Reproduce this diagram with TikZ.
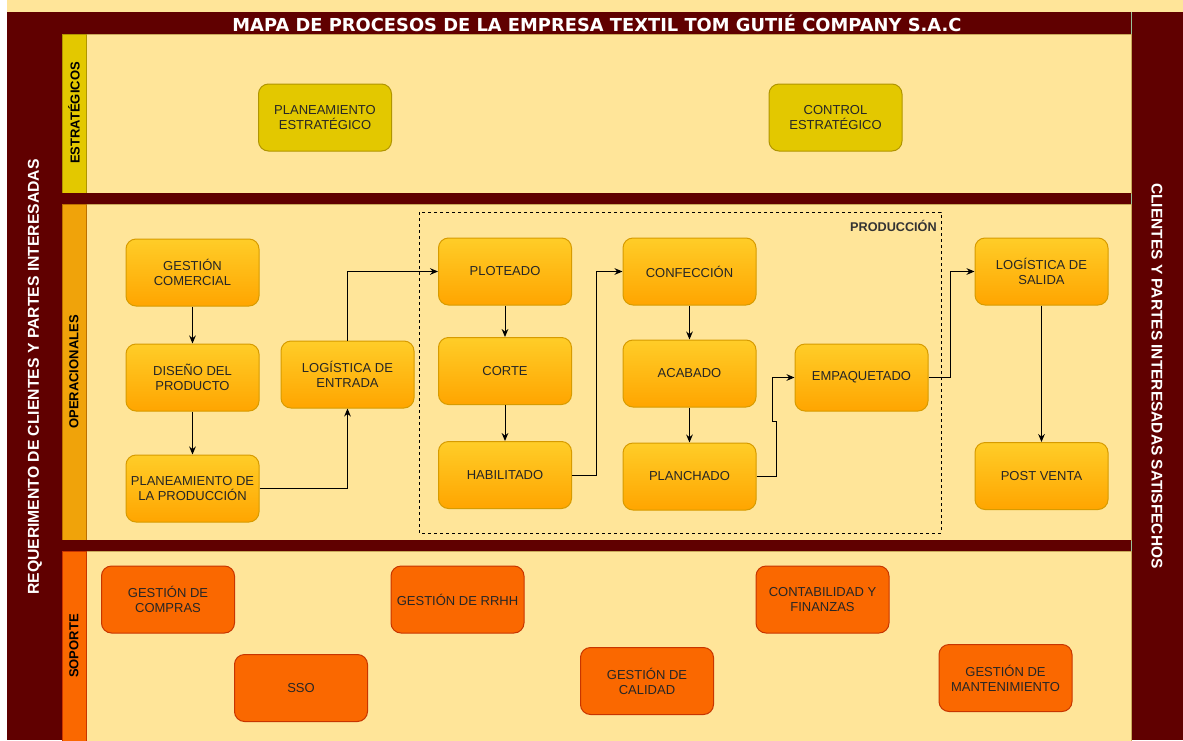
\documentclass[tikz,border=0pt]{standalone}
\usepackage{fontspec}
\setmainfont{Liberation Sans}
\newfontfamily\titlefont{DejaVu Sans}
\usetikzlibrary{arrows.meta}

\definecolor{vino}{HTML}{600000}
\definecolor{crema}{HTML}{FFE599}
\definecolor{cremaborde}{HTML}{C9A95A}
\definecolor{mostaza}{HTML}{E3C800}
\definecolor{mostazaborde}{HTML}{B09500}
\definecolor{ambar}{HTML}{F0A30A}
\definecolor{ambarborde}{HTML}{BD7000}
\definecolor{naranja}{HTML}{FA6800}
\definecolor{naranjaborde}{HTML}{C73500}
\definecolor{oroclaro}{HTML}{FFCD28}
\definecolor{oro}{HTML}{FFA500}
\definecolor{oroborde}{HTML}{D79B00}

\tikzset{
	proceso/.style={rounded corners=7.5pt, minimum width=99.75pt, minimum height=50.25pt, align=center, inner sep=1pt, text=black!85, font=\fontsize{9.75}{11.25}\selectfont},
	estrategico/.style={proceso, fill=mostaza, draw=mostazaborde, line width=0.75pt},
	operativo/.style={proceso, top color=oroclaro, bottom color=oro, draw=oroborde, line width=0.75pt},
	apoyo/.style={proceso, fill=naranja, draw=naranjaborde, line width=0.75pt},
	carril/.style={inner sep=0pt, font=\bfseries\fontsize{9.75}{11}\selectfont, rotate=90},
	flecha/.style={line width=0.75pt, -{Stealth[length=6pt,width=5pt]}}
}

\begin{document}
\begin{tikzpicture}[x=0.75pt,y=0.75pt,yscale=-1]
	\useasboundingbox (0,0) rectangle (1183,740);
	
	%Shape: Rectangle [fondo]
	\fill [white] (0,0) rectangle (1183,740);
	\fill [crema] (7,0) rectangle (1183,12);
	%Shape: Rectangle [columnas laterales]
	\fill [vino] (7,12) rectangle (62,740);
	\fill [vino] (1131,12) rectangle (1183,740);
	\draw [black!60!green!40, line width=0.5pt] (62,12) -- (62,740) (1131,12) -- (1131,740);
	%Shape: Rectangle [barra de titulo]
	\fill [vino] (62,12) rectangle (1131,34);
	
	%Shape: Rectangle [carril estrategico]
	\filldraw [fill=crema, draw=cremaborde, line width=0.5pt] (62,34) rectangle (1131,193);
	\filldraw [fill=mostaza, draw=mostazaborde, line width=0.5pt] (62,34) rectangle (86,193);
	\fill [vino] (62,193) rectangle (1131,204);
	%Shape: Rectangle [carril operativo]
	\filldraw [fill=crema, draw=cremaborde, line width=0.5pt] (62,204) rectangle (1131,540);
	\filldraw [fill=ambar, draw=ambarborde, line width=0.5pt] (62,204) rectangle (86,540);
	\fill [vino] (62,540) rectangle (1131,551);
	%Shape: Rectangle [carril soporte]
	\filldraw [fill=crema, draw=cremaborde, line width=0.5pt] (62,551) rectangle (1131,745);
	\filldraw [fill=naranja, draw=naranjaborde, line width=0.5pt] (62,551) rectangle (86,745);
	
	%Shape: Rectangle [produccion]
	\draw [line width=0.75pt, dash pattern={on 2.25pt off 2.25pt}] (419,212) rectangle (941,533);
	
	% Text Node
	\node (titulo) at (597,23) [text=white, inner sep=0pt, font=\titlefont\bfseries\fontsize{13.4}{15}\selectfont] {MAPA DE PROCESOS DE LA EMPRESA TEXTIL TOM GUTIÉ COMPANY S.A.C};
	% Text Node
	\node (entrada) at (35,377) [text=white, inner sep=0pt, rotate=90, font=\bfseries\fontsize{11.8}{13}\selectfont] {REQUERIMENTO DE CLIENTES Y PARTES INTERESADAS};
	% Text Node
	\node (salidas) at (1157,376) [text=white, inner sep=0pt, rotate=-90, font=\bfseries\fontsize{11.6}{13}\selectfont] {CLIENTES Y PARTES INTERESADAS SATISFECHOS};
	% Text Node
	\node (lblest) at (74,113) [carril] {ESTRATÉGICOS};
	\node (lblope) at (74,372) [carril] {OPERACIONALES};
	\node (lblsop) at (74,646) [carril] {SOPORTE};
	\node (lblprod) at (937,226) [anchor=east, inner sep=0pt, text=black!80, font=\bfseries\fontsize{9.5}{11}\selectfont] {PRODUCCIÓN};
	
	%Procesos estrategicos
	\node (plest) at (325,117.5) [estrategico] {PLANEAMIENTO\\ESTRATÉGICO};
	\node (ctrlest) at (835.5,117.5) [estrategico] {CONTROL\\ESTRATÉGICO};
	
	%Procesos operacionales
	\node (gcom) at (192.5,272.5) [operativo] {GESTIÓN\\COMERCIAL};
	\node (disen) at (192.5,377.5) [operativo] {DISEÑO DEL\\PRODUCTO};
	\node (planprod) at (192.5,488.5) [operativo] {PLANEAMIENTO DE\\LA PRODUCCIÓN};
	\node (logent) at (347.5,374.5) [operativo] {LOGÍSTICA DE\\ENTRADA};
	\node (plot) at (505,271.5) [operativo] {PLOTEADO};
	\node (corte) at (505,371) [operativo] {CORTE};
	\node (habil) at (505,475) [operativo] {HABILITADO};
	\node (confe) at (689.5,271.5) [operativo] {CONFECCIÓN};
	\node (acab) at (689.5,373.5) [operativo] {ACABADO};
	\node (planch) at (689.5,476.5) [operativo] {PLANCHADO};
	\node (empaq) at (861.5,377.5) [operativo] {EMPAQUETADO};
	\node (salida) at (1041.5,271.5) [operativo] {LOGÍSTICA DE\\SALIDA};
	\node (postv) at (1041.5,476) [operativo] {POST VENTA};
	
	%Procesos de soporte
	\node (compras) at (168,599.5) [apoyo] {GESTIÓN DE\\COMPRAS};
	\node (rrhh) at (457.5,599.5) [apoyo] {GESTIÓN DE RRHH};
	\node (conta) at (822.5,599.5) [apoyo] {CONTABILIDAD Y\\FINANZAS};
	\node (sso) at (301,688) [apoyo] {SSO};
	\node (calidad) at (647,681) [apoyo] {GESTIÓN DE\\CALIDAD};
	\node (mant) at (1005.5,678) [apoyo] {GESTIÓN DE\\MANTENIMIENTO};
	
	%Connectors
	\draw [flecha] (gcom) -- (disen);
	\draw [flecha] (disen) -- (planprod);
	\draw [flecha] (planprod.east) -| (logent.south);
	\draw [flecha] (logent.north) |- (plot.west);
	\draw [flecha] (plot) -- (corte);
	\draw [flecha] (corte) -- (habil);
	\draw [flecha] (habil.east) -- ++(24,0) |- (confe.west);
	\draw [flecha] (confe) -- (acab);
	\draw [flecha] (acab) -- (planch);
	\draw [flecha] (planch.east) -- ++(20,0) -- ++(0,-55) -- ++(-4,0) |- (empaq.west);
	\draw [flecha] (empaq.east) -- ++(22,0) |- (salida.west);
	\draw [flecha] (salida) -- (postv);
	
\end{tikzpicture}
\end{document}
